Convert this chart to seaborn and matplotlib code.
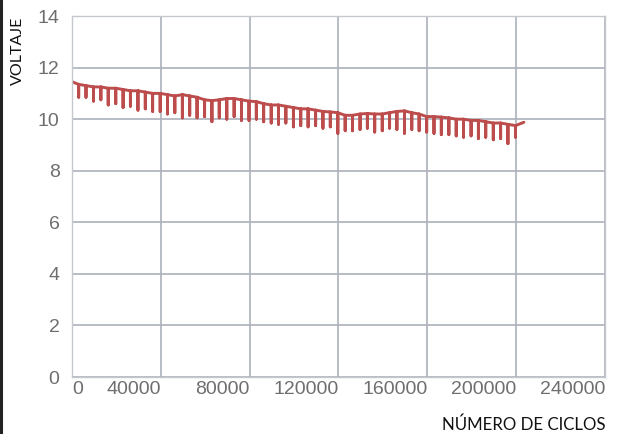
import matplotlib
matplotlib.use("Agg")
import matplotlib.pyplot as plt
import numpy as np
import pandas as pd
import seaborn as sns
from matplotlib.lines import Line2D

# ciclos where each downward spike happens
ciclos = [3000, 6300, 9700, 13000, 16300, 19700, 23000, 26300, 29700, 33000,
          36300, 39700, 43000, 46300, 49700, 53000, 56300, 59700, 63000, 66300,
          69700, 73000, 76300, 79700, 83000, 86300, 89700, 93000, 96300, 99700,
          103000, 106300, 109700, 113000, 116300, 119700, 123000, 126300, 129700, 133000,
          136300, 139700, 143000, 146300, 149700, 153000, 156300, 159700, 163000, 166300,
          169700, 173000, 176300, 179700, 183000, 186300, 189700, 193000, 196300, 199700]
# voltage on the upper line at each spike
v_tope = [11.35, 11.30, 11.25, 11.25, 11.20, 11.20, 11.15, 11.10, 11.10, 11.05,
          11.00, 11.00, 10.95, 10.90, 10.95, 10.90, 10.85, 10.75, 10.72, 10.75,
          10.80, 10.80, 10.75, 10.70, 10.68, 10.60, 10.55, 10.55, 10.50, 10.45,
          10.40, 10.40, 10.35, 10.30, 10.28, 10.25, 10.15, 10.15, 10.20, 10.22,
          10.20, 10.20, 10.25, 10.30, 10.32, 10.25, 10.20, 10.10, 10.10, 10.08,
          10.05, 10.00, 10.00, 9.95, 9.95, 9.90, 9.85, 9.85, 9.80, 9.75]
# voltage at the bottom of each spike
v_pico = [10.85, 10.85, 10.70, 10.75, 10.55, 10.60, 10.45, 10.50, 10.35, 10.40,
          10.30, 10.30, 10.20, 10.25, 10.05, 10.15, 10.05, 10.10, 9.90, 10.05,
          10.00, 10.10, 9.95, 9.95, 10.00, 9.90, 9.85, 9.80, 9.85, 9.70,
          9.75, 9.70, 9.75, 9.65, 9.70, 9.45, 9.55, 9.55, 9.60, 9.65,
          9.50, 9.55, 9.65, 9.60, 9.45, 9.60, 9.55, 9.50, 9.45, 9.40,
          9.40, 9.35, 9.30, 9.35, 9.25, 9.30, 9.20, 9.25, 9.05, 9.30]
inicio = (0, 11.45)
fin = (203500, 9.88)

xticks = [0, 40000, 80000, 120000, 160000, 200000, 240000]
yticks = [0, 2, 4, 6, 8, 10, 12, 14]

# build the path: along the top, down to the spike and back up
xs, ys = [inicio[0]], [inicio[1]]
for c, t, p in zip(ciclos, v_tope, v_pico):
    xs += [c, c, c]
    ys += [t, p, t]
xs.append(fin[0])
ys.append(fin[1])
df = pd.DataFrame({"ciclos": xs, "voltaje": ys})

sns.set_style("white")
fig = plt.figure(figsize=(6.3, 4.34), dpi=100)
ax = fig.add_axes([0.1143, 0.1313, 0.846, 0.8318])

sns.lineplot(data=df, x="ciclos", y="voltaje", sort=False, estimator=None,
             color="#bd4d4d", linewidth=2.1, ax=ax)

grid_c = "#acb1bb"
ax.set_xlim(0, 240000)
ax.set_ylim(0, 14)
ax.set_xticks(xticks)
ax.set_yticks(yticks)
ax.set_xticklabels([str(v) for v in xticks])
ax.set_yticklabels([str(v) for v in yticks])
for i, lab in enumerate(ax.get_xticklabels()):
    lab.set_ha("left" if i == 0 else "right")
ax.grid(True, color=grid_c, linewidth=1.2)
for s in ax.spines.values():
    s.set_color("#c4c7cc")
    s.set_linewidth(1.0)
ax.tick_params(axis="both", colors="#c4c7cc", length=3, width=1.0,
               labelcolor="#6e6e6e", labelsize=14)
ax.tick_params(axis="y", pad=6)
ax.tick_params(axis="x", pad=0)
for lab in ax.get_xticklabels() + ax.get_yticklabels():
    lab.set_family(["Liberation Sans", "DejaVu Sans"])
ax.set_xlabel("")
ax.set_ylabel("")

fig.text(18 / 630, 1 - 51 / 434, "VOLTAJE", rotation=90, ha="center", va="center",
         fontsize=11.5, family=["Lato", "DejaVu Sans"], color="#111111")
fig.text(605 / 630, 1 - 425 / 434, "NÚMERO DE CICLOS", ha="right", va="center",
         fontsize=12.2, family=["Lato", "DejaVu Sans"], color="#111111")

fig.add_artist(Line2D([0.002, 0.002], [0, 1], transform=fig.transFigure,
                      color="#222222", linewidth=2.2))

fig.savefig("out.png", dpi=100)
